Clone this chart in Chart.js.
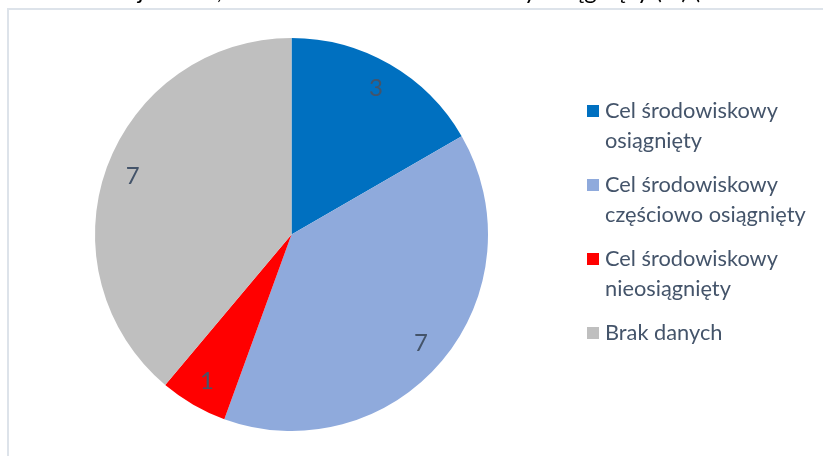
<!DOCTYPE html>
<html>
<head>
<meta charset="utf-8">
<script src="https://cdn.jsdelivr.net/npm/chart.js@4.4.0/dist/chart.umd.min.js"></script>
<style>
  html, body { margin: 0; padding: 0; background: #ffffff; }
  #wrap { position: absolute; left: 0; top: 0; width: 823px; height: 456px; }
</style>
</head>
<body>
<div id="wrap"><canvas id="c" width="823" height="456"></canvas></div>
<script>
// ---- data ----
const titleText = "Ocena realizacji celów, stan JCWP cel środowiskowy osiągnięty (%) (liczba JCWP)";
const categories = [
  ["Cel środowiskowy", "osiągnięty"],
  ["Cel środowiskowy", "częściowo osiągnięty"],
  ["Cel środowiskowy", "nieosiągnięty"],
  ["Brak danych"]
];
const values = [3, 7, 1, 7];
const colors = ["#0070C0", "#8FAADC", "#FF0000", "#BFBFBF"];

const FONT = "Lato, 'Open Sans', sans-serif";
const TEXT_COLOR = "#44546A";

const framePlugin = {
  id: 'frame',
  beforeDraw(chart) {
    const ctx = chart.ctx;
    ctx.save();
    ctx.fillStyle = '#ffffff';
    ctx.fillRect(0, 0, chart.width, chart.height);
    ctx.fillStyle = '#DDE3EA';
    ctx.fillRect(7, 8, chart.width - 7, 2);
    ctx.fillRect(7, 8, 2, chart.height - 8);
    // clipped title (only bottoms visible)
    ctx.fillStyle = '#000000';
    ctx.font = "24px " + FONT;
    ctx.textAlign = 'center';
    ctx.textBaseline = 'alphabetic';
    ctx.fillText(titleText, 411, -1);
    ctx.restore();
  }
};

const labelPlugin = {
  id: 'sliceLabels',
  afterDatasetsDraw(chart) {
    const ctx = chart.ctx;
    const meta = chart.getDatasetMeta(0);
    ctx.save();
    ctx.font = "24px " + FONT;
    ctx.fillStyle = TEXT_COLOR;
    ctx.textAlign = 'center';
    ctx.textBaseline = 'middle';
    meta.data.forEach((arc, i) => {
      const p = arc.getProps(['x', 'y', 'startAngle', 'endAngle', 'outerRadius'], true);
      const mid = (p.startAngle + p.endAngle) / 2;
      const r = p.outerRadius * 0.86;
      ctx.fillText(String(chart.data.datasets[0].data[i]), p.x + Math.cos(mid) * r, p.y + Math.sin(mid) * r);
    });
    ctx.restore();
  }
};

const legendPlugin = {
  id: 'sideLegend',
  afterDraw(chart) {
    const ctx = chart.ctx;
    ctx.save();
    ctx.font = "24px " + FONT;
    const w = ctx.measureText("Cel środowiskowy").width;
    const size = 24 * 173 / w;
    ctx.font = size.toFixed(2) + "px " + FONT;
    ctx.textAlign = 'left';
    ctx.textBaseline = 'alphabetic';
    let y = 118;
    chart.data.labels.forEach((lab, i) => {
      const lines = Array.isArray(lab) ? lab : [lab];
      ctx.fillStyle = chart.data.datasets[0].backgroundColor[i];
      ctx.fillRect(587, y - 13, 12, 12);
      ctx.fillStyle = TEXT_COLOR;
      lines.forEach((ln, j) => ctx.fillText(ln, 605, y + j * 30));
      y += 74 + (lines.length - 1) * 0;
    });
    ctx.restore();
  }
};

new Chart(document.getElementById('c'), {
  type: 'pie',
  data: {
    labels: categories,
    datasets: [{
      data: values,
      backgroundColor: colors,
      borderWidth: 0,
      hoverOffset: 0
    }]
  },
  options: {
    responsive: false,
    animation: false,
    devicePixelRatio: 1,
    layout: { padding: { left: 95, right: 335, top: 38, bottom: 25 } },
    plugins: {
      legend: { display: false },
      tooltip: { enabled: false },
      title: { display: false }
    }
  },
  plugins: [framePlugin, labelPlugin, legendPlugin]
});
</script>
</body>
</html>
